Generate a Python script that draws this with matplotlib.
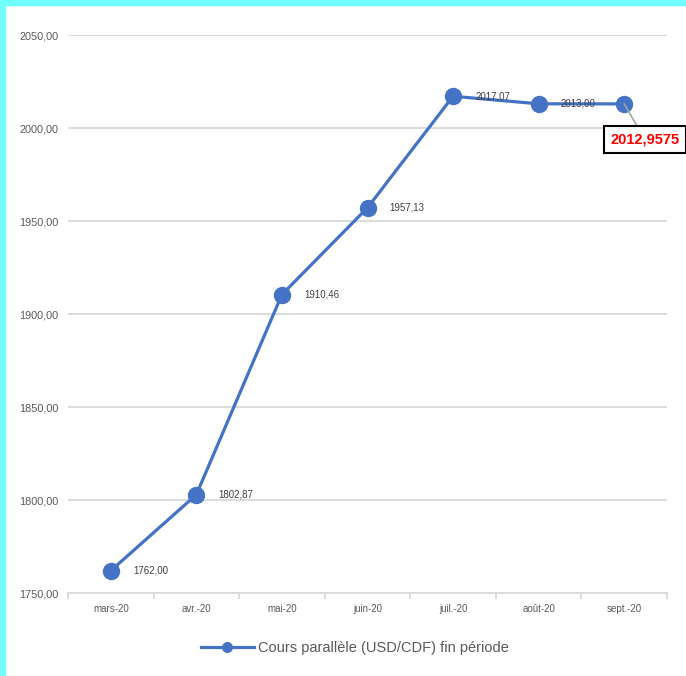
import matplotlib.pyplot as plt
import numpy as np

# data
mois = ['mars-20', 'avr.-20', 'mai-20', 'juin-20', 'juil.-20', 'août-20', 'sept.-20']
cours = [1762.00, 1802.87, 1910.46, 1957.13, 2017.07, 2013.00, 2012.9575]
etiquettes = ['1762,00', '1802,87', '1910,46', '1957,13', '2017,07', '2013,00']
derniere = '2012,9575'
yticks = [1750, 1800, 1850, 1900, 1950, 2000, 2050]
serie = 'Cours parallèle (USD/CDF) fin période'

plt.rcParams['font.family'] = ['Liberation Sans', 'DejaVu Sans']

W, H = 686, 676
fig = plt.figure(figsize=(W / 100, H / 100), dpi=100)

# cyan border (top + left)
fig.patches.append(plt.Rectangle((0, 1 - 5 / H), 1, 5 / H, transform=fig.transFigure,
                                 color='#70FFFF', zorder=0))
fig.patches.append(plt.Rectangle((0, 0), 5 / W, 1, transform=fig.transFigure,
                                 color='#70FFFF', zorder=0))

ax = fig.add_axes([68 / W, 83 / H, (667 - 68) / W, (593 - 35) / H])
x = np.arange(len(mois))

ax.plot(x, cours, color='#4472C4', lw=2.3, marker='o', ms=11.5, zorder=3,
        label=serie, clip_on=False)

for xi, yi, t in zip(x, cours, etiquettes):
    ax.annotate(t, (xi, yi), xytext=(16, 0), textcoords='offset points',
                ha='left', va='center', fontsize=7, color='#404040', zorder=4)

# callout for the last point
ax.annotate(derniere, (x[-1], cours[-1]), xytext=(x[-1] + 0.24, 1994.0),
            textcoords='data', ha='center', va='center', fontsize=10.5,
            fontweight='bold', color='#FF0000', annotation_clip=False,
            bbox=dict(boxstyle='square,pad=0.45', fc='white', ec='black', lw=1.5),
            arrowprops=dict(arrowstyle='-', color='#A6A6A6', lw=1.2,
                            shrinkA=0, shrinkB=0), zorder=5)

ax.set_xlim(-0.5, len(mois) - 0.5)
ax.set_ylim(1750, 2050)
ax.set_yticks(yticks)
ax.set_yticklabels([f'{v:.2f}'.replace('.', ',') for v in yticks])
ax.set_xticks(x)
ax.set_xticklabels(mois)
ax.set_xticks(np.arange(-0.5, len(mois)), minor=True)

ax.grid(axis='y', color='#D9D9D9', lw=1.3)
ax.set_axisbelow(True)
for s in ['left', 'right', 'top']:
    ax.spines[s].set_visible(False)
ax.spines['bottom'].set_color('#D9D9D9')
ax.spines['bottom'].set_linewidth(1.3)

ax.tick_params(axis='y', length=0, pad=7, labelsize=7.8, labelcolor='#595959')
ax.tick_params(axis='x', which='major', length=0, pad=8, labelsize=7, labelcolor='#595959')
ax.tick_params(axis='x', which='minor', length=4, width=1.3, color='#D9D9D9')

fig.legend(loc='center', bbox_to_anchor=(355 / W, 1 - 648 / H), frameon=False,
           fontsize=10.5, labelcolor='#595959', handlelength=3.6, handletextpad=0.3,
           markerscale=0.6)

plt.savefig('out.png', dpi=100)
